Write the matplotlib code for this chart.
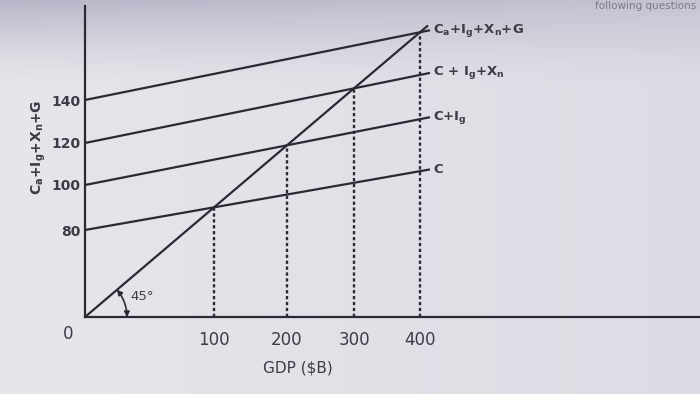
import numpy as np
import matplotlib
matplotlib.use('Agg')
import matplotlib.pyplot as plt
from matplotlib.patches import FancyArrowPatch
from matplotlib.path import Path

plt.rcParams['font.family'] = ['DejaVu Sans']
plt.rcParams['mathtext.default'] = 'regular'

# values printed on the textbook diagram
gdp_ticks = [100, 200, 300, 400]        # equilibrium GDP of each schedule ($B)
ae_intercepts = [80, 100, 120, 140]     # spending when GDP = 0
ae_labels = ['C', 'C+I$_g$', 'C + I$_g$+X$_n$', 'C$_a$+I$_g$+X$_n$+G']

INK = '#2a2a34'
TXT = '#3c3c46'


# the diagram is not drawn to scale, so both axes use a schematic mapping
def gdp_pos(g):
    return np.interp(g, [0, 100, 200, 300, 400], [0, 129, 202, 269, 335])


def val_pos(v):
    return np.interp(v, [0, 80, 100, 120, 140], [0, 87, 132, 174, 217])


SLOPE45 = 0.85   # how steep the 45 degree line looks in the picture

fig = plt.figure(figsize=(7, 3.94), dpi=100)

# photo-like grey background
bg = fig.add_axes([0, 0, 1, 1], zorder=-5)
yy, xx = np.mgrid[0:1:100j, 0:1:180j]
top = np.array([0.72, 0.72, 0.79])
mid = np.array([0.90, 0.90, 0.92])
right = np.array([0.82, 0.82, 0.87])
shade = np.clip(1 - yy / 0.22, 0, 1)[..., None] ** 1.5
img = mid * (1 - shade) + top * shade
img = img * (1 - 0.45 * xx[..., None]) + right * 0.45 * xx[..., None]
bg.imshow(img, aspect='auto', extent=[0, 1, 0, 1])
bg.axis('off')
fig.text(0.995, 0.998, 'following questions', ha='right', va='top',
         fontsize=7.5, color='#7a7a88')

ax = fig.add_axes([85 / 700, 77 / 394, 615 / 700, 311 / 394])
ax.set_xlim(0, 615)
ax.set_ylim(0, 311)
ax.patch.set_alpha(0)
for s in ['top', 'right']:
    ax.spines[s].set_visible(False)
for s in ['left', 'bottom']:
    ax.spines[s].set_linewidth(1.6)
    ax.spines[s].set_color(INK)

x_end = gdp_pos(max(gdp_ticks)) + 10

# 45 degree line
xs = np.array([0, x_end - 2])
ax.plot(xs, SLOPE45 * xs, color=INK, lw=1.6, solid_capstyle='butt')

# aggregate expenditure schedules and their equilibria
for g, a, lab in zip(gdp_ticks, ae_intercepts, ae_labels):
    xe = gdp_pos(g)
    ye = SLOPE45 * xe
    y0 = val_pos(a)
    k = (ye - y0) / xe
    ax.plot([0, x_end], [y0, y0 + k * x_end], color=INK, lw=1.6,
            solid_capstyle='butt')
    ax.plot([xe, xe], [0, ye], color=INK, lw=1.7, ls=(0, (1.4, 1.1)))
    ax.text(x_end + 3, y0 + k * x_end, lab, ha='left', va='center',
            fontsize=9.5, fontweight='bold', color=TXT)

ax.set_xticks(gdp_pos(gdp_ticks), [str(g) for g in gdp_ticks])
ax.set_yticks(val_pos(ae_intercepts), [str(v) for v in ae_intercepts])
ax.tick_params(axis='x', length=0, pad=10, labelsize=12, labelcolor=TXT)
ax.tick_params(axis='y', length=0, pad=3, labelsize=10, labelcolor=TXT)
for t in ax.get_yticklabels():
    t.set_fontweight('bold')

ax.text(-17, -17, '0', ha='center', va='center', fontsize=12, color=TXT,
        clip_on=False)
ax.text(213, -51, 'GDP ($B)', ha='center', va='center', fontsize=11,
        color=TXT, clip_on=False)
ax.text(-46, 170, 'C$_a$+I$_g$+X$_n$+G', ha='center', va='center',
        rotation=90, fontsize=10, fontweight='bold', color=TXT, clip_on=False)

# angle marker
r = 42
t = np.linspace(np.arctan(SLOPE45), 0, 20)
arc = FancyArrowPatch(path=Path(np.column_stack([r * np.cos(t), r * np.sin(t)])),
                      arrowstyle='<|-|>,head_length=3,head_width=1.6',
                      color=INK, lw=1.2)
ax.add_patch(arc)
ax.text(r + 3, 21, '45°', ha='left', va='center', fontsize=9.5, color=TXT)

fig.savefig('out.png', dpi=100)
